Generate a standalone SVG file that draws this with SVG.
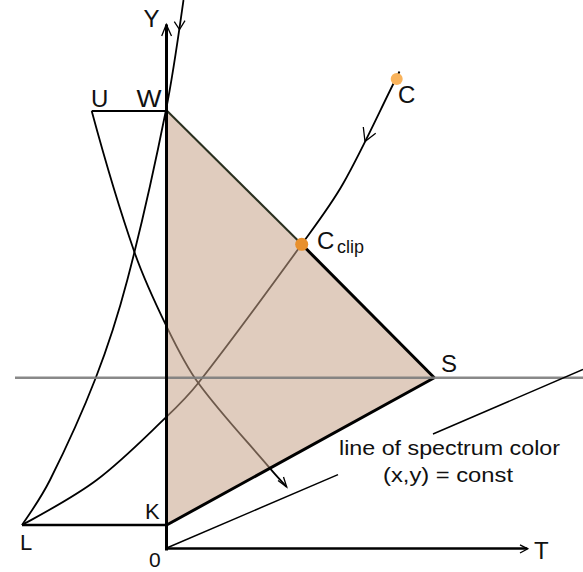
<svg xmlns="http://www.w3.org/2000/svg" width="583" height="572" viewBox="0 0 583 572">
<style>
text{font-family:"Liberation Sans",Arial,sans-serif;fill:#111;}
.lbl{font-size:24px;}
.lbl2{font-size:22px;}
.cap{font-size:20px;}
.sub{font-size:18px;}
.curve{fill:none;stroke:#000;stroke-width:1.8;}
.arr{fill:none;stroke:#000;stroke-width:1.3;}
.ax{fill:none;stroke:#000;stroke-linecap:square;}
</style>
<rect width="583" height="572" fill="#fff"/>
<g id="connectors">
  <path id="curve-L-top" class="curve" d="M22,525 C32.1,510.5 42.1,495.8 50,480 C66.7,446.7 82.2,412.8 95.7,378 C108.1,346 118.6,313.2 127.3,280 C142.1,223.8 154.6,167 166,110 C173.3,73.6 178.3,36.7 183.5,0"/>
  <path class="arr" d="M174.3,21.7 L179.5,29.5 L185,20.7"/>
  <path id="curve-U" class="curve" d="M91.7,111 C104.5,158.3 118.2,205.4 134.3,251.7 C143.2,277.4 154.8,302.2 166.7,326.7 C176.1,346 185.6,365.6 198.3,383 C220.2,413 246,440 270,468.3 C275.4,474.7 281.1,480.8 286.7,487"/>
  <path id="curve-C" class="curve" d="M22,525 C47.5,511 73.4,497.5 96.7,480 C121.9,461.1 143.9,438.4 166.7,416.7 C177.8,406.1 188.8,395.1 198.3,383 C233.9,337.6 267.8,291 301.7,244.3 C316.2,224.4 331.2,204.7 343.3,183.3 C363.7,147.2 380.4,109.1 399.5,71.5"/>
  <path class="arr" d="M363.3,127 L365,141.5 L375.7,133.3"/>
</g>
<g id="gamut-triangle">
  <polygon points="166.7,110.5 434.3,377.7 166.7,525" fill="#c7a289" fill-opacity="0.55"/>
  <line x1="166.7" y1="110.5" x2="301.7" y2="244.3" stroke="#2a3020" stroke-width="2"/>
  <line x1="301.7" y1="244.3" x2="434.3" y2="377.7" stroke="#000" stroke-width="3"/>
  <line x1="434.3" y1="377.7" x2="166.7" y2="525" stroke="#000" stroke-width="3"/>
</g>
<g id="lines">
  <path class="arr" d="M278,480.5 L286.7,487 L283.5,477"/>
  <line x1="15" y1="377.7" x2="583" y2="377.7" stroke="#7c7c7c" stroke-width="2.4" stroke-opacity="0.9"/>
  <line x1="22" y1="525" x2="166.7" y2="525" stroke="#000" stroke-width="2.5"/>
  <line x1="91.7" y1="111" x2="166.7" y2="111" stroke="#000" stroke-width="2"/>
  <line x1="166.7" y1="548" x2="338" y2="474.6" stroke="#000" stroke-width="1.5"/>
  <line x1="433" y1="434" x2="583" y2="369.5" stroke="#000" stroke-width="1.5"/>
  <g id="axis-Y">
    <line class="ax" x1="166.5" y1="549" x2="166.5" y2="26" stroke-width="3"/>
    <path class="arr" d="M161.7,36 L166.3,24.5 L171.5,36" stroke-width="1.6"/>
  </g>
  <g id="axis-T">
    <line class="ax" x1="166.5" y1="548.5" x2="526" y2="548.5" stroke-width="2.5"/>
    <path class="arr" d="M520,544.8 L527.8,548.8 L520,553"/>
  </g>
</g>
<g id="node-C">
  <circle cx="396.7" cy="79" r="6" fill="#f9b35b"/>
  <text class="lbl" x="398" y="103">C</text>
</g>
<g id="node-Cclip">
  <circle cx="301.7" cy="244.3" r="6.5" fill="#e8902c"/>
  <text class="lbl" x="317" y="249">C</text>
  <text class="sub" x="337" y="253">clip</text>
</g>
<g id="node-Y"><text class="lbl" x="143.5" y="27" textLength="16" lengthAdjust="spacingAndGlyphs">Y</text></g>
<g id="node-U"><text class="lbl" x="91" y="107">U</text></g>
<g id="node-W"><text class="lbl" x="136.5" y="107" textLength="25" lengthAdjust="spacingAndGlyphs">W</text></g>
<g id="node-S"><text class="lbl" x="441" y="372">S</text></g>
<g id="node-K"><text class="lbl2" x="145" y="518.5">K</text></g>
<g id="node-L"><text class="lbl2" x="20" y="549.5">L</text></g>
<g id="node-O"><text font-size="21" x="149" y="567">0</text></g>
<g id="node-T"><text class="lbl" x="534" y="559">T</text></g>
<g id="caption">
  <text class="cap" x="339" y="455" textLength="221" lengthAdjust="spacingAndGlyphs">line of spectrum color</text>
  <text class="cap" x="383" y="482" textLength="130" lengthAdjust="spacingAndGlyphs">(x,y) = const</text>
</g>
</svg>
